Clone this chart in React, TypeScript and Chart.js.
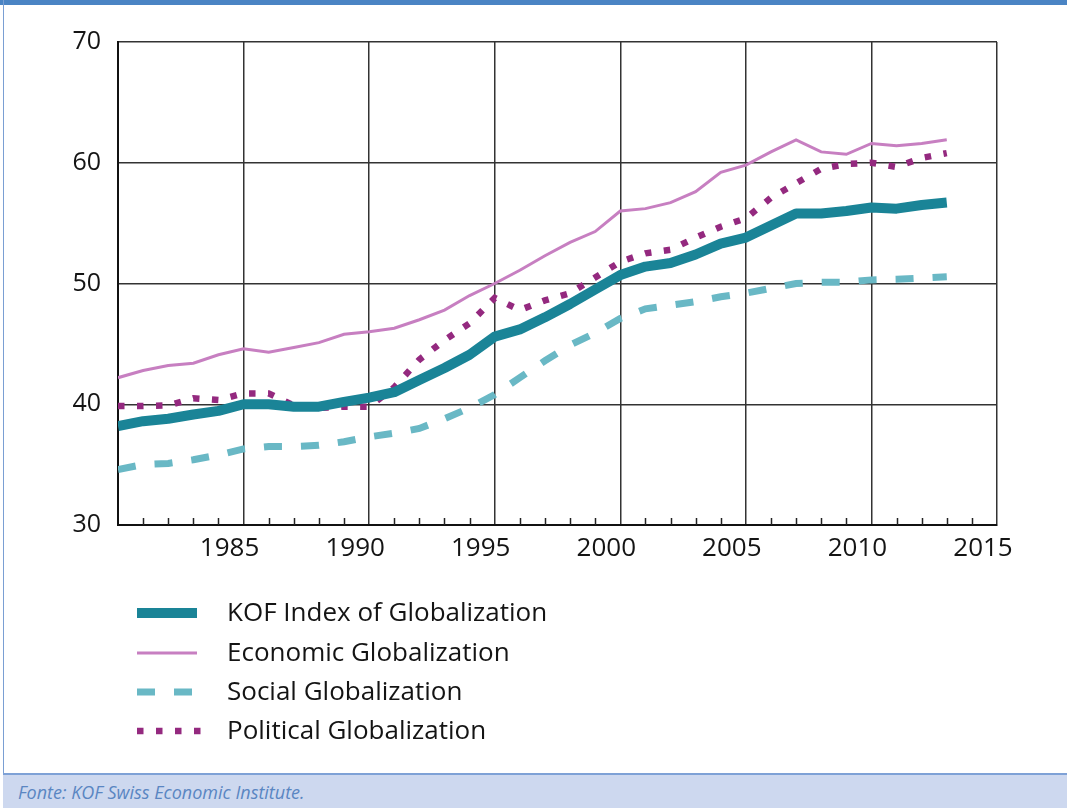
import React, { useEffect, useRef } from "react";
import { Chart, registerables } from "chart.js";

Chart.register(...registerables);

const years = [
  1980, 1981, 1982, 1983, 1984, 1985, 1986, 1987, 1988, 1989,
  1990, 1991, 1992, 1993, 1994, 1995, 1996, 1997, 1998, 1999,
  2000, 2001, 2002, 2003, 2004, 2005, 2006, 2007, 2008, 2009,
  2010, 2011, 2012, 2013,
];

const kofIndex = [
  38.2, 38.6, 38.8, 39.15, 39.45, 40.0, 40.0, 39.8, 39.8, 40.2,
  40.55, 41.0, 42.0, 43.0, 44.1, 45.6, 46.2, 47.2, 48.3, 49.5,
  50.7, 51.4, 51.7, 52.4, 53.3, 53.8, 54.8, 55.8, 55.8, 56.0,
  56.3, 56.2, 56.5, 56.7,
];

const economic = [
  42.2, 42.8, 43.2, 43.4, 44.1, 44.6, 44.3, 44.7, 45.1, 45.8,
  46.0, 46.3, 47.0, 47.8, 49.0, 50.0, 51.1, 52.3, 53.4, 54.3,
  56.0, 56.2, 56.7, 57.6, 59.2, 59.8, 60.9, 61.9, 60.9, 60.7,
  61.6, 61.4, 61.6, 61.9,
];

const social = [
  34.6, 35.0, 35.1, 35.4, 35.8, 36.3, 36.5, 36.5, 36.6, 36.9,
  37.3, 37.6, 38.0, 38.8, 39.7, 40.8, 42.2, 43.6, 44.9, 45.9,
  47.1, 47.9, 48.2, 48.5, 48.9, 49.2, 49.6, 50.0, 50.1, 50.1,
  50.3, 50.35, 50.45, 50.55,
];

const political = [
  39.85, 39.85, 39.9, 40.5, 40.35, 40.9, 40.9, 39.9, 39.7, 39.8,
  39.8, 41.4, 43.7, 45.3, 46.7, 48.8, 47.8, 48.6, 49.2, 50.5,
  51.8, 52.5, 52.8, 53.8, 54.7, 55.4, 57.1, 58.3, 59.5, 59.9,
  60.0, 59.65, 60.4, 60.8,
];

const seriesNames = [
  "KOF Index of Globalization",
  "Economic Globalization",
  "Social Globalization",
  "Political Globalization",
];

const yTicks = [30, 40, 50, 60, 70];
const xTickLabels = ["", "1985", "1990", "1995", "2000", "2005", "2010", "2015"];

const COLORS = {
  kof: "#1a8497",
  economic: "#c77fc1",
  social: "#69b8c5",
  political: "#94297f",
};

const FONT = "'Open Sans', 'Noto Sans', sans-serif";

const toPoints = (vals: number[]) => years.map((yr, i) => ({ x: yr, y: vals[i] }));

export default function App() {
  const ref = useRef<HTMLCanvasElement | null>(null);

  useEffect(() => {
    if (!ref.current) return;

    const styles = [
      { color: COLORS.kof, width: 10, dash: [] as number[], cap: "butt" },
      { color: COLORS.economic, width: 3, dash: [] as number[], cap: "butt" },
      { color: COLORS.social, width: 7, dash: [18, 19], cap: "butt" },
      { color: COLORS.political, width: 6.5, dash: [6.5, 12.5], cap: "butt" },
    ];

    const minorTicks = {
      id: "minorTicks",
      afterDatasetsDraw(chart: any) {
        const { ctx, scales, chartArea } = chart;
        const x = scales.x;
        ctx.save();
        ctx.strokeStyle = "#222";
        ctx.lineWidth = 1.5;
        for (let yr = x.min + 1; yr < x.max; yr++) {
          if (yr % 5 === 0) continue;
          const px = Math.round(x.getPixelForValue(yr)) + 0.5;
          ctx.beginPath();
          ctx.moveTo(px, chartArea.bottom);
          ctx.lineTo(px, chartArea.bottom - 7);
          ctx.stroke();
        }
        ctx.restore();
      },
    };

    const legendPlugin = {
      id: "customLegend",
      afterDraw(chart: any) {
        const { ctx } = chart;
        const rowsY = [613, 653, 692, 731];
        ctx.save();
        styles.forEach((s, i) => {
          const y = rowsY[i];
          ctx.beginPath();
          ctx.strokeStyle = s.color;
          ctx.lineWidth = s.width;
          ctx.lineCap = s.cap;
          ctx.setLineDash(s.dash);
          ctx.moveTo(137, y);
          ctx.lineTo(i === 3 ? 201 : 197, y);
          ctx.stroke();
          ctx.setLineDash([]);
          ctx.fillStyle = "#141414";
          ctx.font = `26px ${FONT}`;
          ctx.textBaseline = "middle";
          ctx.textAlign = "left";
          ctx.fillText(seriesNames[i], 227, y + 1);
        });
        ctx.restore();
      },
    };

    const chart = new Chart(ref.current, {
      type: "line",
      data: {
        datasets: [
          {
            label: seriesNames[2],
            data: toPoints(social),
            borderColor: styles[2].color,
            borderWidth: styles[2].width,
            borderDash: styles[2].dash,
            borderCapStyle: "butt",
            pointRadius: 0,
            tension: 0,
            order: 4,
          },
          {
            label: seriesNames[1],
            data: toPoints(economic),
            borderColor: styles[1].color,
            borderWidth: styles[1].width,
            pointRadius: 0,
            tension: 0,
            order: 3,
          },
          {
            label: seriesNames[3],
            data: toPoints(political),
            borderColor: styles[3].color,
            borderWidth: styles[3].width,
            borderDash: styles[3].dash,
            borderCapStyle: "butt",
            pointRadius: 0,
            tension: 0,
            order: 2,
          },
          {
            label: seriesNames[0],
            data: toPoints(kofIndex),
            borderColor: styles[0].color,
            borderWidth: styles[0].width,
            borderJoinStyle: "round",
            pointRadius: 0,
            tension: 0,
            order: 1,
          },
        ],
      },
      options: {
        animation: false,
        responsive: false,
        devicePixelRatio: 1,
        layout: { padding: { top: 42, right: 70, bottom: 195, left: 0 } },
        plugins: {
          legend: { display: false },
          tooltip: { enabled: false },
        },
        scales: {
          x: {
            type: "linear",
            min: 1980,
            max: 2015,
            afterFit: (s: any) => {
              s.height = 50;
            },
            ticks: {
              stepSize: 5,
              padding: 8,
              labelOffset: -14,
              color: "#141414",
              font: { family: FONT, size: 26 },
              maxRotation: 0,
              autoSkip: false,
              callback: (v: any) => {
                const idx = (Number(v) - 1980) / 5;
                return xTickLabels[idx] ?? "";
              },
            },
            grid: { color: "#333", lineWidth: 1.5, drawTicks: false },
            border: { display: true, color: "#111", width: 2 },
          },
          y: {
            min: 30,
            max: 70,
            afterFit: (s: any) => {
              s.width = 118;
            },
            afterBuildTicks: (s: any) => {
              s.ticks = yTicks.map((v) => ({ value: v }));
            },
            ticks: {
              padding: 17,
              color: "#141414",
              font: { family: FONT, size: 25 },
            },
            grid: { color: "#333", lineWidth: 1.5, drawTicks: false },
            border: { display: true, color: "#111", width: 2 },
          },
        },
      },
      plugins: [minorTicks, legendPlugin],
    } as any);

    return () => chart.destroy();
  }, []);

  return (
    <div
      style={{
        position: "absolute",
        left: 0,
        top: 0,
        width: 1067,
        height: 808,
        background: "#fff",
        overflow: "hidden",
      }}
    >
      <div style={{ position: "absolute", left: 0, top: 0, width: 1067, height: 5, background: "#4a84c4" }} />
      <div style={{ position: "absolute", left: 3, top: 0, width: 1, height: 808, background: "#7a9fd3" }} />
      <canvas ref={ref} width={1067} height={770} style={{ position: "absolute", left: 0, top: 0 }} />
      <div
        style={{
          position: "absolute",
          left: 3,
          top: 773,
          width: 1064,
          height: 35,
          background: "#cdd8ef",
          borderTop: "2px solid #7ea1d6",
          boxSizing: "border-box",
        }}
      >
        <span
          style={{
            position: "absolute",
            left: 15,
            top: 6,
            fontFamily: FONT,
            fontStyle: "italic",
            fontSize: 18,
            lineHeight: "22px",
            color: "#5a86c2",
          }}
        >
          Fonte: KOF Swiss Economic Institute.
        </span>
      </div>
    </div>
  );
}
